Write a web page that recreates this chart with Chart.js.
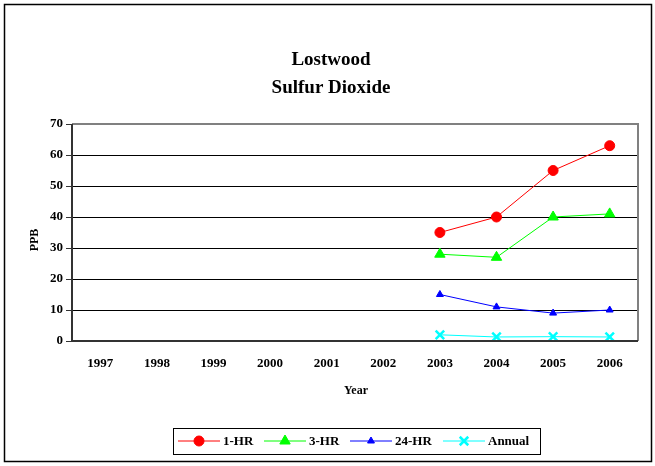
<!DOCTYPE html>
<html>
<head>
<meta charset="utf-8">
<script src="https://cdn.jsdelivr.net/npm/chart.js@4/dist/chart.umd.min.js"></script>
<style>
  body { margin: 0; background: #fff; }
  #wrap { width: 655px; height: 466px; position: relative; }
</style>
</head>
<body>
<div id="wrap"><canvas id="chart" width="655" height="466"></canvas></div>
<script>
// data
const years = ['1997', '1998', '1999', '2000', '2001', '2002', '2003', '2004', '2005', '2006'];
const oneHr = [null, null, null, null, null, null, 35, 40, 55, 63];
const threeHr = [null, null, null, null, null, null, 28, 27, 40, 41];
const twentyFourHr = [null, null, null, null, null, null, 15, 11, 9, 10];
const annual = [null, null, null, null, null, null, 2, 1.3, 1.4, 1.3];
const yTicks = [0, 10, 20, 30, 40, 50, 60, 70];

const serif = '"Liberation Serif", "Times New Roman", serif';

// frame, titles, plot border and the boxed legend
const decorations = {
    id: 'decorations',
    beforeDraw(chart) {
        const ctx = chart.ctx;
        ctx.save();
        ctx.fillStyle = '#fff';
        ctx.fillRect(0, 0, chart.width, chart.height);
        ctx.restore();
    },
    afterDraw(chart) {
        const ctx = chart.ctx;
        const a = chart.chartArea;
        ctx.save();

        // outer frame
        ctx.strokeStyle = '#000';
        ctx.lineWidth = 1.5;
        ctx.strokeRect(4.5, 4.5, 647, 457);

        // plot border: gray top/right, dark axes
        ctx.strokeStyle = '#808080';
        ctx.lineWidth = 2;
        ctx.beginPath();
        ctx.moveTo(a.left, a.top);
        ctx.lineTo(a.right, a.top);
        ctx.lineTo(a.right, a.bottom);
        ctx.stroke();
        ctx.strokeStyle = '#333';
        ctx.beginPath();
        ctx.moveTo(a.left, a.top);
        ctx.lineTo(a.left, a.bottom);
        ctx.lineTo(a.right, a.bottom);
        ctx.stroke();

        // titles
        ctx.fillStyle = '#000';
        ctx.textAlign = 'center';
        ctx.textBaseline = 'middle';
        ctx.font = 'bold 19px ' + serif;
        ctx.fillText('Lostwood', 331, 60);
        ctx.fillText('Sulfur Dioxide', 331, 88);

        ctx.font = 'bold 12px ' + serif;
        ctx.fillText('Year', 356, 391);
        ctx.save();
        ctx.translate(35, 240);
        ctx.rotate(-Math.PI / 2);
        ctx.fillText('PPB', 0, 0);
        ctx.restore();

        // legend
        ctx.strokeStyle = '#000';
        ctx.lineWidth = 1;
        ctx.strokeRect(173.5, 428.5, 367, 26);
        const items = [
            { ds: 0, x: 178, text: '1-HR' },
            { ds: 1, x: 264, text: '3-HR' },
            { ds: 2, x: 350, text: '24-HR' },
            { ds: 3, x: 443, text: 'Annual' }
        ];
        const ly = 441;
        ctx.font = 'bold 13px ' + serif;
        ctx.textAlign = 'left';
        items.forEach(function(it) {
            const ds = chart.data.datasets[it.ds];
            ctx.strokeStyle = ds.borderColor;
            ctx.lineWidth = 1;
            ctx.beginPath();
            ctx.moveTo(it.x, ly);
            ctx.lineTo(it.x + 42, ly);
            ctx.stroke();
            // drawPoint takes its colours from the context
            ctx.fillStyle = ds.borderColor;
            ctx.strokeStyle = ds.borderColor;
            ctx.lineWidth = ds.pointBorderWidth;
            Chart.helpers.drawPoint(ctx, {
                pointStyle: ds.pointStyle,
                radius: ds.pointRadius,
                borderWidth: ds.pointBorderWidth,
                rotation: 0
            }, it.x + 21, ly);
            ctx.fillStyle = '#000';
            ctx.fillText(it.text, it.x + 45, ly + 1);
        });
        ctx.restore();
    }
};

Chart.defaults.font.family = serif;

function series(label, data, color, style, radius) {
    return {
        label: label,
        data: data,
        borderColor: color,
        backgroundColor: color,
        pointBackgroundColor: color,
        pointBorderColor: color,
        pointStyle: style,
        pointRadius: radius,
        pointHoverRadius: radius,
        pointBorderWidth: style === 'crossRot' ? 2.5 : 1,
        borderWidth: 1,
        spanGaps: false,
        tension: 0
    };
}

new Chart(document.getElementById('chart').getContext('2d'), {
    type: 'line',
    data: {
        labels: years,
        datasets: [
            series('1-HR', oneHr, '#ff0000', 'circle', 5),
            series('3-HR', threeHr, '#00ff00', 'triangle', 6),
            series('24-HR', twentyFourHr, '#0000ff', 'triangle', 4),
            series('Annual', annual, '#00ffff', 'crossRot', 6)
        ]
    },
    options: {
        responsive: false,
        animation: false,
        events: [],
        layout: { padding: { top: 124, right: 17, left: 0, bottom: 0 } },
        plugins: {
            legend: { display: false },
            title: { display: false },
            tooltip: { enabled: false }
        },
        scales: {
            x: {
                offset: true,
                afterFit: function(scale) { scale.height = 125; },
                grid: { display: false, drawTicks: false },
                border: { display: false },
                ticks: {
                    padding: 15,
                    color: '#000',
                    maxRotation: 0,
                    autoSkip: false,
                    font: { size: 13, weight: 'bold', family: serif }
                }
            },
            y: {
                min: 0,
                max: 70,
                afterFit: function(scale) { scale.width = 72; },
                afterBuildTicks: function(scale) {
                    scale.ticks = yTicks.map(function(v) { return { value: v }; });
                },
                grid: {
                    color: '#000',
                    lineWidth: 1,
                    tickLength: 6,
                    tickColor: '#333',
                    drawTicks: true
                },
                border: { display: false },
                ticks: {
                    padding: 3,
                    color: '#000',
                    font: { size: 13, weight: 'bold', family: serif }
                }
            }
        }
    },
    plugins: [decorations]
});
</script>
</body>
</html>
